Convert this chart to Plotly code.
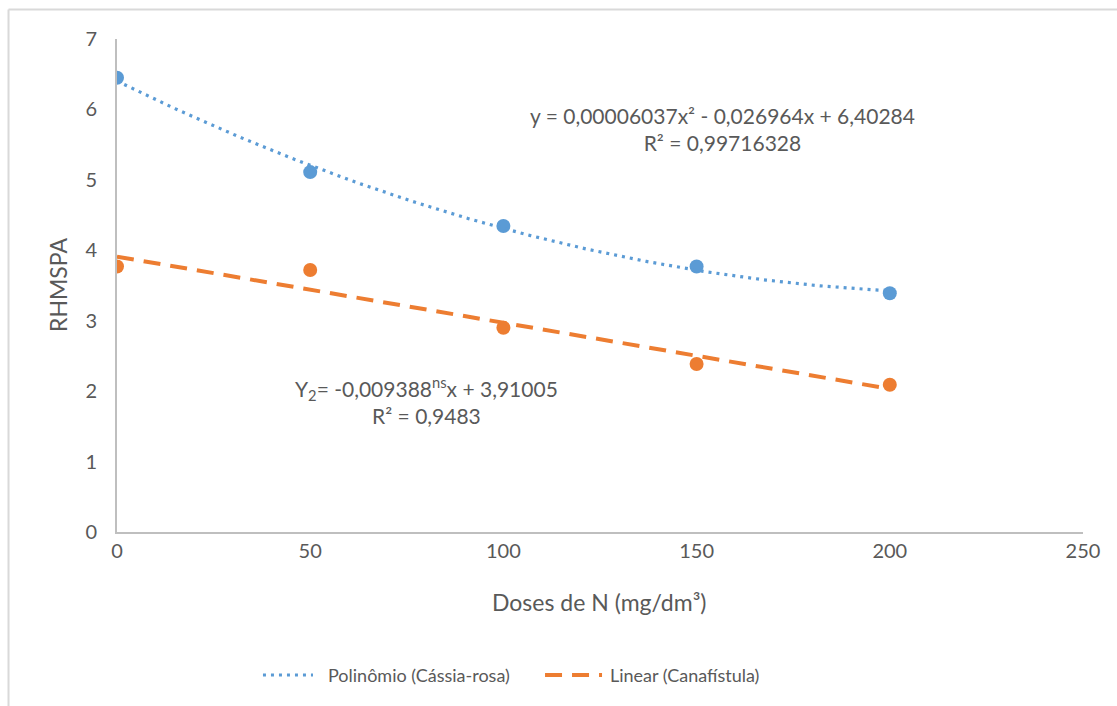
import numpy as np
import plotly.graph_objects as go

doses = [0, 50, 100, 150, 200]
cassia_rosa = [6.45, 5.11, 4.345, 3.77, 3.39]
canafistula = [3.77, 3.72, 2.90, 2.385, 2.09]

# Trendline coefficients as printed on the chart
poly_coef = [0.00006037, -0.026964, 6.40284]   # a x^2 + b x + c
lin_coef = [-0.009388, 3.91005]                # m x + q

x_ticks = [0, 50, 100, 150, 200, 250]
y_ticks = [0, 1, 2, 3, 4, 5, 6, 7]

legend_labels = ["Polinômio (Cássia-rosa)", "Linear (Canafístula)"]

BLUE = "#5B9BD5"
ORANGE = "#ED7D31"
TXT = "#595959"
FONT = "Lato"
DOT = "3px,5px"
DASH = "17px,10px"

xs = np.linspace(0, 200, 201)
poly_y = poly_coef[0] * xs**2 + poly_coef[1] * xs + poly_coef[2]
lin_y = lin_coef[0] * xs + lin_coef[1]

fig = go.Figure()
fig.add_trace(go.Scatter(x=doses, y=cassia_rosa, mode="markers",
                         marker=dict(color=BLUE, size=14), showlegend=False,
                         name="Cássia-rosa"))
fig.add_trace(go.Scatter(x=doses, y=canafistula, mode="markers",
                         marker=dict(color=ORANGE, size=14), showlegend=False,
                         name="Canafístula"))
fig.add_trace(go.Scatter(x=xs, y=poly_y, mode="lines", showlegend=False,
                         line=dict(color=BLUE, width=3.2, dash=DOT),
                         name=legend_labels[0]))
fig.add_trace(go.Scatter(x=xs, y=lin_y, mode="lines", showlegend=False,
                         line=dict(color=ORANGE, width=4, dash=DASH),
                         name=legend_labels[1]))

fig.add_annotation(x=156.8, y=5.72, xref="x", yref="y",
                   text="y = 0,00006037x² - 0,026964x + 6,40284<br>R² = 0,99716328",
                   showarrow=False, align="center",
                   font=dict(family=FONT, size=21, color=TXT))
fig.add_annotation(x=80.0, y=1.87, xref="x", yref="y",
                   text="Y<sub>2</sub>= -0,009388<sup>ns</sup>x + 3,91005<br>R² = 0,9483",
                   showarrow=False, align="center",
                   font=dict(family=FONT, size=21, color=TXT))

# axis titles
fig.add_annotation(x=-0.0611, y=0.501, xref="paper", yref="paper",
                   text="RHMSPA", textangle=-90, showarrow=False,
                   xanchor="center", yanchor="middle",
                   font=dict(family=FONT, size=23, color=TXT))
fig.add_annotation(x=0.499, y=-0.142, xref="paper", yref="paper",
                   text="Doses de N (mg/dm³)", showarrow=False,
                   xanchor="center", yanchor="middle",
                   font=dict(family=FONT, size=23, color=TXT))

# legend (manual, to match the long line samples)
ly = -0.2901
fig.add_shape(type="line", xref="paper", yref="paper",
              x0=0.1511, x1=0.2029, y0=ly, y1=ly,
              line=dict(color=BLUE, width=3.2, dash=DOT))
fig.add_annotation(x=0.2164, y=ly, xref="paper", yref="paper",
                   text=legend_labels[0], showarrow=False,
                   xanchor="left", yanchor="middle",
                   font=dict(family=FONT, size=18, color=TXT))
fig.add_shape(type="line", xref="paper", yref="paper",
              x0=0.4431, x1=0.5021, y0=ly, y1=ly,
              line=dict(color=ORANGE, width=4, dash=DASH))
fig.add_annotation(x=0.5083, y=ly, xref="paper", yref="paper",
                   text=legend_labels[1], showarrow=False,
                   xanchor="left", yanchor="middle",
                   font=dict(family=FONT, size=18, color=TXT))

# outer chart border (left and top edges visible)
fig.add_shape(type="line", xref="paper", yref="paper",
              x0=-0.1123, x1=-0.1123, y0=-0.5, y1=1.0598,
              line=dict(color="#D9D9D9", width=2))
fig.add_shape(type="line", xref="paper", yref="paper",
              x0=-0.1123, x1=1.2, y0=1.0598, y1=1.0598,
              line=dict(color="#D9D9D9", width=2))

fig.update_layout(
    width=1117, height=706,
    margin=dict(l=117, r=34, t=39, b=174),
    paper_bgcolor="white", plot_bgcolor="white",
    font=dict(family=FONT, color=TXT, size=19),
    showlegend=False,
    xaxis=dict(range=[0, 250], tickvals=x_ticks, ticks="", showgrid=False,
               zeroline=False, showline=True, linecolor="#BFBFBF", linewidth=2,
               tickfont=dict(size=20, color=TXT)),
    yaxis=dict(range=[0, 7], tickvals=y_ticks, ticks="", showgrid=False,
               zeroline=False, showline=True, linecolor="#BFBFBF", linewidth=2,
               tickfont=dict(size=20, color=TXT), ticklabelstandoff=14),
)

fig.write_html("out.html")
